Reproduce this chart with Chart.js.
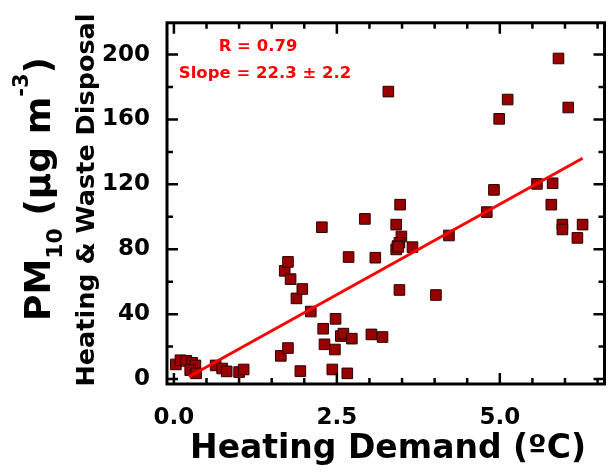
<!DOCTYPE html>
<html>
<head>
<meta charset="utf-8">
<script src="https://cdn.jsdelivr.net/npm/chart.js@4/dist/chart.umd.min.js"></script>
<style>
body{margin:0;background:#fff}
</style>
</head>
<body>
<canvas id="pm_chart" width="613" height="472"></canvas>
<script>
// heating demand (x) vs PM10 from heating & waste disposal (y)
var heat = [0.03,0.10,0.19,0.28,0.33,0.25,0.34,0.64,0.74,0.81,1.00,1.07,
    1.64,1.75,1.70,1.75,1.79,1.88,1.97,1.94,2.10,2.27,2.29,2.31,2.48,2.47,2.43,2.56,2.60,2.73,2.66,2.68,2.93,3.03,3.09,3.20,
    3.29,3.47,3.41,3.49,3.46,3.41,3.43,3.44,3.66,3.46,4.02,4.22,4.80,4.91,4.99,5.12,5.57,5.81,5.79,5.90,6.05,5.96,5.96,6.27,6.19]
var pm10 = [9.0,11.6,11.2,10.0,8.4,5.5,3.5,8.4,6.5,4.7,4.3,5.9,
    14.3,19.1,66.7,72.2,61.6,49.7,55.5,4.9,41.6,93.6,31.0,21.4,37.1,18.2,5.9,26.5,28.0,24.9,3.5,75.2,98.7,27.5,74.8,25.9,
    177.2,107.5,95.2,87.9,84.0,79.9,82.0,81.5,81.3,54.9,51.8,88.5,102.9,116.6,160.4,172.3,120.3,120.7,107.5,197.6,167.4,95.2,92.2,95.2,87.0]
// fit line end points
var fitX = [0.23, 6.27]
var fitY = [1.4, 136.1]
var xTicks = [0, 2.5, 5.0]
var xMinor = [0.5,1,1.5,2,3,3.5,4,4.5,5.5,6,6.5]
var yTicks = [0,40,80,120,160,200]
var yMinor = [20,60,100,140,180]
var stats = ['R = 0.79', 'Slope = 22.3 \u00b1 2.2']

var FONT = 'DejaVu Sans'
Chart.defaults.font.family = FONT
Chart.defaults.font.weight = 'bold'
Chart.defaults.color = '#000'

var pts = []
for (var i = 0; i < heat.length; i++) pts.push({x: heat[i], y: pm10[i]})
var fit = []
for (var j = 0; j < fitX.length; j++) fit.push({x: fitX[j], y: fitY[j]})

function rotText(ctx, parts, cx, cy){
    ctx.save()
    ctx.translate(cx, cy)
    ctx.rotate(-Math.PI/2)
    ctx.textBaseline = 'alphabetic'
    ctx.textAlign = 'left'
    var total = 0
    parts.forEach(function(p){
        ctx.font = 'bold ' + p.size + 'px "' + FONT + '"'
        p.w = ctx.measureText(p.t).width
        total += p.w
    })
    var x = -total/2
    parts.forEach(function(p){
        ctx.font = 'bold ' + p.size + 'px "' + FONT + '"'
        ctx.fillText(p.t, x, p.dy || 0)
        x += p.w
    })
    ctx.restore()
}

var frame = {
    id: 'frame',
    afterDraw: function(chart){
        var ctx = chart.ctx
        var a = chart.chartArea
        var sx = chart.scales.x, sy = chart.scales.y
        ctx.save()
        ctx.strokeStyle = '#000'
        ctx.lineWidth = 3
        ctx.strokeRect(a.left, a.top, a.right - a.left, a.bottom - a.top)
        ctx.lineWidth = 2.5
        ctx.beginPath()
        function xt(v, len){
            var p = sx.getPixelForValue(v)
            ctx.moveTo(p, a.bottom); ctx.lineTo(p, a.bottom - len)
            ctx.moveTo(p, a.top); ctx.lineTo(p, a.top + len)
        }
        function yt(v, len){
            var p = sy.getPixelForValue(v)
            ctx.moveTo(a.left, p); ctx.lineTo(a.left + len, p)
            ctx.moveTo(a.right, p); ctx.lineTo(a.right - len, p)
        }
        xTicks.forEach(function(v){ xt(v, 11) })
        xMinor.forEach(function(v){ xt(v, 6) })
        yTicks.forEach(function(v){ yt(v, 11) })
        yMinor.forEach(function(v){ yt(v, 6) })
        ctx.stroke()

        // stats text
        ctx.fillStyle = '#ff0000'
        ctx.textAlign = 'center'
        ctx.textBaseline = 'alphabetic'
        ctx.font = 'bold 16.5px "' + FONT + '"'
        ctx.fillText(stats[0], 258, 51)
        ctx.fillText(stats[1], 265, 78)

        // axis titles
        ctx.fillStyle = '#000'
        ctx.font = 'bold 33px "' + FONT + '"'
        ctx.fillText('Heating Demand (\u00baC)', 388, 458)
        ctx.restore()

        ctx.fillStyle = '#000'
        rotText(ctx, [
            {t: 'PM', size: 36},
            {t: '10', size: 22, dy: 12},
            {t: ' (\u00b5g m', size: 36},
            {t: '-3', size: 21, dy: -22},
            {t: ')', size: 36}
        ], 50, 189)
        rotText(ctx, [{t: 'Heating & Waste Disposal', size: 25.5}], 94, 200)
    }
}

var chart1 = new Chart(document.getElementById('pm_chart').getContext('2d'), {
    type: 'scatter',
    plugins: [frame],
    data: {
        datasets: [{
            type: 'line',
            data: fit,
            borderColor: '#ff0000',
            borderWidth: 3,
            pointRadius: 0,
            fill: false
        }, {
            data: pts,
            pointStyle: 'rect',
            pointRadius: 7.5,
            backgroundColor: '#990000',
            borderColor: '#2a0000',
            borderWidth: 1
        }]
    },
    options: {
        responsive: false,
        animation: false,
        layout: {padding: {left: 0, right: 3, top: 20, bottom: 0}},
        plugins: {legend: {display: false}, tooltip: {enabled: false}},
        scales: {
            x: {
                type: 'linear',
                min: -0.106,
                max: 6.606,
                grid: {display: false},
                border: {display: false},
                afterBuildTicks: function(s){ s.ticks = xTicks.map(function(v){ return {value: v} }) },
                afterFit: function(s){ s.height = 88 },
                ticks: {
                    padding: 12,
                    font: {size: 23, weight: 'bold'},
                    maxRotation: 0,
                    callback: function(v){ return v.toFixed(1) }
                }
            },
            y: {
                type: 'linear',
                min: -3.06,
                max: 219.6,
                grid: {display: false},
                border: {display: false},
                afterBuildTicks: function(s){ s.ticks = yTicks.map(function(v){ return {value: v} }) },
                afterFit: function(s){ s.width = 167 },
                ticks: {
                    padding: 9,
                    font: {size: 23, weight: 'bold'}
                }
            }
        }
    }
})
</script>
</body>
</html>
